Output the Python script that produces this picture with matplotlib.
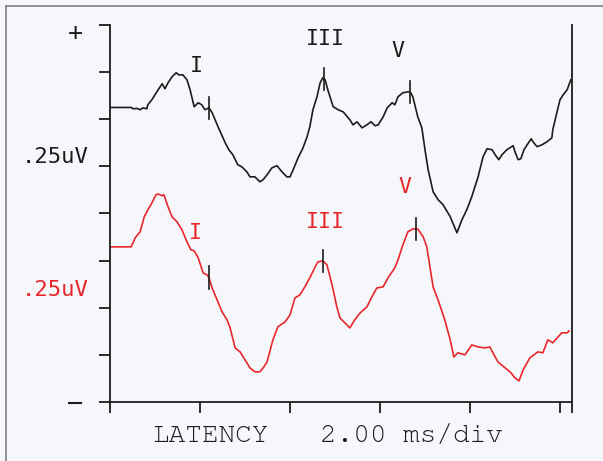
import numpy as np
import matplotlib.pyplot as plt
from matplotlib.lines import Line2D
from matplotlib import font_manager

# latency (ms) and amplitude (uV, relative to the pre-stimulus baseline)
latency_top = [0.00, 0.48, 0.51, 0.60, 0.67, 0.73, 0.82, 0.84, 0.93, 1.04, 1.16, 1.22, 1.29, 1.38,
               1.47, 1.53, 1.62, 1.71, 1.78, 1.87, 1.96, 2.04, 2.11, 2.20, 2.27, 2.40, 2.56, 2.64,
               2.73, 2.84, 2.93, 3.04, 3.11, 3.22, 3.33, 3.40, 3.49, 3.60, 3.71, 3.82, 3.93, 4.00,
               4.07, 4.18, 4.29, 4.38, 4.44, 4.51, 4.60, 4.67, 4.73, 4.78, 4.84, 4.96, 5.07, 5.18,
               5.33, 5.40, 5.49, 5.60, 5.71, 5.80, 5.89, 5.96, 6.07, 6.16, 6.27, 6.33, 6.40, 6.51,
               6.62, 6.67, 6.73, 6.84, 6.93, 7.00, 7.07, 7.18, 7.29, 7.40, 7.56, 7.71, 7.82, 7.93,
               8.04, 8.18, 8.29, 8.38, 8.49, 8.56, 8.64, 8.71, 8.82, 8.96, 9.00, 9.07, 9.13, 9.20,
               9.27, 9.36, 9.40, 9.49, 9.60, 9.71, 9.82, 9.84, 9.93, 10.00, 10.07, 10.16, 10.24]
amp_top = [0.000, 0.000, -0.007, -0.005, -0.012, -0.002, -0.007, 0.014, 0.041, 0.083, 0.126, 0.099,
           0.131, 0.163, 0.184, 0.173, 0.173, 0.147, 0.094, 0.004, 0.025, 0.014, -0.012, -0.002,
           -0.028, -0.102, -0.187, -0.224, -0.251, -0.304, -0.315, -0.341, -0.368, -0.368, -0.394,
           -0.384, -0.357, -0.320, -0.309, -0.341, -0.368, -0.368, -0.331, -0.267, -0.214, -0.155,
           -0.103, -0.012, 0.057, 0.131, 0.158, 0.147, 0.094, 0.004, -0.012, -0.023, -0.065, -0.092,
           -0.076, -0.108, -0.092, -0.076, -0.097, -0.092, -0.050, -0.002, 0.025, 0.014, 0.057,
           0.078, 0.083, 0.083, 0.057, -0.050, -0.108, -0.224, -0.330, -0.447, -0.489, -0.516,
           -0.579, -0.665, -0.596, -0.542, -0.473, -0.368, -0.262, -0.219, -0.224, -0.251, -0.277,
           -0.251, -0.224, -0.203, -0.235, -0.277, -0.272, -0.224, -0.198, -0.166, -0.182, -0.208,
           -0.198, -0.182, -0.161, -0.118, -0.028, 0.041, 0.067, 0.094, 0.147]

latency_bot = [0.00, 0.47, 0.56, 0.67, 0.76, 0.84, 0.93, 1.02, 1.07, 1.16, 1.20, 1.29, 1.38, 1.49,
               1.60, 1.71, 1.80, 1.87, 1.96, 2.07, 2.16, 2.20, 2.27, 2.38, 2.49, 2.60, 2.67, 2.78,
               2.89, 3.00, 3.11, 3.22, 3.33, 3.42, 3.49, 3.62, 3.73, 3.89, 4.00, 4.11, 4.22, 4.33,
               4.44, 4.56, 4.62, 4.73, 4.82, 4.89, 4.96, 5.04, 5.11, 5.22, 5.33, 5.44, 5.56, 5.71,
               5.82, 5.93, 6.07, 6.18, 6.33, 6.40, 6.51, 6.62, 6.73, 6.84, 6.96, 7.04, 7.11, 7.18,
               7.29, 7.44, 7.56, 7.64, 7.73, 7.89, 8.04, 8.18, 8.33, 8.44, 8.51, 8.62, 8.78, 8.89,
               9.00, 9.09, 9.18, 9.33, 9.51, 9.62, 9.73, 9.84, 10.04, 10.16, 10.20]
amp_bot = [0.000, 0.000, 0.048, 0.080, 0.159, 0.196, 0.233, 0.276, 0.281, 0.271, 0.276, 0.212,
           0.159, 0.133, 0.090, 0.027, -0.016, -0.021, -0.058, -0.138, -0.149, -0.164, -0.218,
           -0.281, -0.345, -0.387, -0.430, -0.536, -0.557, -0.599, -0.642, -0.663, -0.663, -0.637,
           -0.610, -0.493, -0.424, -0.398, -0.361, -0.271, -0.255, -0.212, -0.164, -0.106, -0.080,
           -0.074, -0.095, -0.159, -0.228, -0.318, -0.377, -0.403, -0.430, -0.387, -0.350, -0.318,
           -0.265, -0.218, -0.212, -0.164, -0.111, -0.069, 0.011, 0.080, 0.095, 0.095, 0.053,
           0.000, -0.106, -0.212, -0.281, -0.387, -0.493, -0.584, -0.562, -0.573, -0.520, -0.531,
           -0.536, -0.531, -0.562, -0.610, -0.642, -0.663, -0.695, -0.711, -0.653, -0.589, -0.557,
           -0.562, -0.493, -0.509, -0.456, -0.456, -0.446]

peak_names = ['I', 'III', 'V']
peak_lat_top = [2.20, 4.76, 6.67]
peak_lat_bot = [2.20, 4.73, 6.80]

# layout
W, H = 603, 461
base_top = 1.5625
base_bot = 0.823
red = '#e8272c'
ink = '#1c1c1c'
mono = 'DejaVu Sans Mono'

# a courier-like serif mono if one is around, else Liberation Mono
installed = {f.name for f in font_manager.fontManager.ttflist}
courier = 'Liberation Mono'
for name in ['Courier New', 'Nimbus Mono PS', 'Nimbus Mono L', 'FreeMono', 'Courier']:
    if name in installed:
        courier = name
        break

def fx(px):
    return px / W

def fy(py):
    return 1 - py / H

fig = plt.figure(figsize=(W / 100, H / 100), dpi=100)
fig.patch.set_facecolor('#f6f7fa')

ax = fig.add_axes([fx(110), 59 / H, 462 / W, 377 / H])
ax.set_facecolor('none')
ax.set_xlim(0, 10.267)
ax.set_ylim(0, 2.0)
ax.spines['top'].set_visible(False)
for s in ['left', 'bottom', 'right']:
    ax.spines[s].set_linewidth(1.3)
    ax.spines[s].set_color(ink)
ax.set_yticks(np.arange(0, 2.01, 0.25))
ax.set_xticks([0, 2, 4, 6, 8, 10, 10.267])
ax.tick_params(direction='out', length=8, width=1.3, color=ink,
               labelleft=False, labelbottom=False)

# traces
ax.plot(latency_top, np.array(amp_top) + base_top, color=ink, lw=1.2)
ax.plot(latency_bot, np.array(amp_bot) + base_bot, color=red, lw=1.2)

# peak markers
for lat_list, lat, amp, base in [(peak_lat_top, latency_top, amp_top, base_top),
                                 (peak_lat_bot, latency_bot, amp_bot, base_bot)]:
    for t in lat_list:
        a = np.interp(t, lat, amp) + base
        ax.plot([t, t], [a - 0.06, a + 0.06], color=ink, lw=1.2)

# peak labels
top_label_pos = [(1.91, 1.782), (4.78, 1.926), (6.40, 1.862)]
bot_label_pos = [(1.89, 0.897), (4.78, 0.955), (6.56, 1.141)]
for name, (x, y) in zip(peak_names, top_label_pos):
    ax.text(x, y, name, color=ink, fontsize=15.5, family=mono, ha='center', va='center')
for name, (x, y) in zip(peak_names, bot_label_pos):
    ax.text(x, y, name, color=red, fontsize=15.5, family=mono, ha='center', va='center')

# side labels
fig.text(fx(75), fy(33), '+', color=ink, fontsize=18, family=mono, ha='center', va='center')
fig.add_artist(Line2D([fx(69), fx(81)], [fy(403), fy(403)], color=ink, lw=1.5))
fig.text(fx(55), fy(157), '.25uV', color=ink, fontsize=16, family=mono, ha='center', va='center')
fig.text(fx(55), fy(290), '.25uV', color=red, fontsize=16, family=mono, ha='center', va='center')
fig.text(fx(210), fy(436), 'LATENCY', color=ink, fontsize=20, family=courier,
         ha='center', va='center')
fig.text(fx(411), fy(436), '2.00 ms/div', color=ink, fontsize=20, family=courier,
         ha='center', va='center')

# scan frame
fig.add_artist(Line2D([fx(6), fx(6)], [0, fy(6)], color='#808080', lw=1.2))
fig.add_artist(Line2D([fx(6), 1], [fy(6), fy(6)], color='#808080', lw=1.2))

fig.savefig('out.png', dpi=100, facecolor=fig.get_facecolor())
